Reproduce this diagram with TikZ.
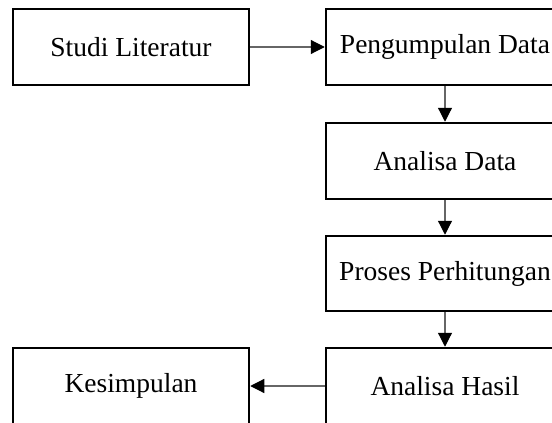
\documentclass[tikz,border=0pt]{standalone}
\usepackage{fontspec}
\setmainfont{Liberation Serif}
\usetikzlibrary{arrows.meta}

\begin{document}
\begin{tikzpicture}[x=1pt,y=-1pt,font=\fontsize{27.5}{33}\selectfont,
    stage/.style={draw,line width=2.5pt,minimum width=236pt,minimum height=76pt,inner sep=0pt},
    link/.style={black!60,line width=1.2pt,-{Triangle[length=14pt,width=14pt,color=black]}}]
  \useasboundingbox (0,0) rectangle (552,423);
  % left column
  \node[stage] (studi) at (131,47) {Studi Literatur};
  \node[stage] (simpul) at (131,386) {Kesimpulan};
  % right column
  \node[stage,minimum width=238pt] (kumpul) at (445,47) {Pengumpulan Data};
  \node[stage,minimum width=238pt] (adata) at (445,161) {Analisa Data};
  \node[stage,minimum width=238pt,minimum height=75pt] (proses) at (445,273.5) {Proses Perhitungan};
  \node[stage,minimum width=238pt] (hasil) at (445,386) {Analisa Hasil};
  % flow
  \draw[link] (studi) -- (kumpul);
  \draw[link] (kumpul) -- (adata);
  \draw[link] (adata) -- (proses);
  \draw[link] (proses) -- (hasil);
  \draw[link] (hasil) -- (simpul);
\end{tikzpicture}
\end{document}
